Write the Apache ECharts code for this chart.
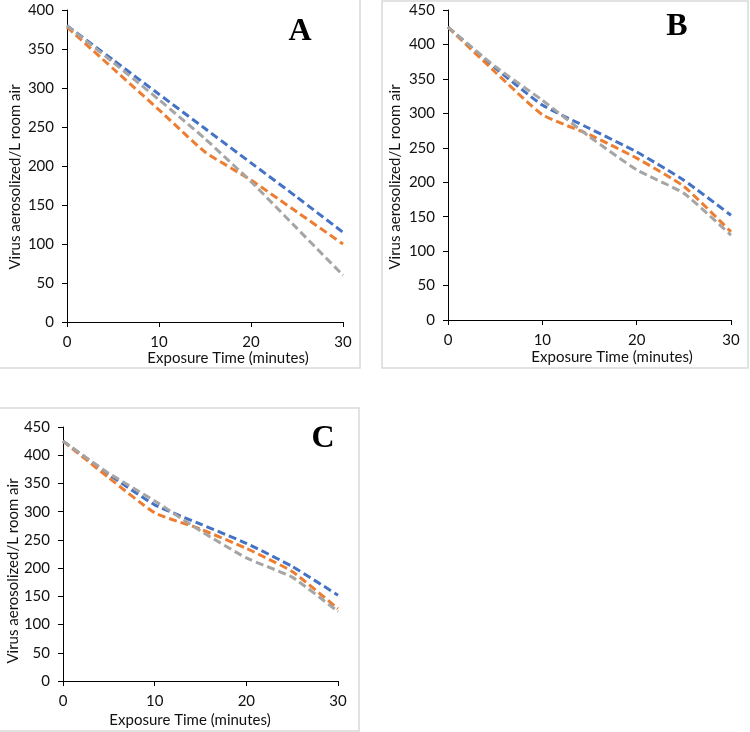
<!DOCTYPE html>
<html><head><meta charset="utf-8">
<script src="https://cdn.jsdelivr.net/npm/echarts@6/dist/echarts.min.js"></script>
<style>html,body{margin:0;padding:0;background:#fff}#c{width:750px;height:732px}</style>
</head><body><div id="c"></div>
<script>
const minutes = [0, 5, 10, 15, 20, 25, 30];
const aBlue   = [380, 336, 292, 248, 204, 160, 115];
const aOrange = [378, 325, 272, 218, 182, 141, 100];
const aGray   = [380, 333, 285, 235, 180, 120, 60];
const bBlue   = [425, 366, 312, 278, 244, 203, 152];
const bOrange = [425, 360, 298, 269, 235, 194, 128];
const bGray   = [425, 368, 319, 266, 218, 184, 123];
const cBlue   = [425, 366, 312, 278, 244, 203, 152];
const cOrange = [425, 360, 298, 269, 235, 194, 128];
const cGray   = [425, 368, 319, 266, 218, 184, 123];
const xTicks = [0, 10, 20, 30];
const panelLetters = ['A', 'B', 'C'];
const xTitle = 'Exposure Time (minutes)';
const yTitle = 'Virus aerosolized/L room air';

const FONT = 'Lato';
const colors = ['#4472C4', '#ED7D31', '#A5A5A5'];
const grids = [
  {left: 67, top: 10, width: 276, height: 312},
  {left: 448, top: 10, width: 283, height: 310},
  {left: 63, top: 427, width: 275, height: 254}
];
const yMax = [400, 450, 450];
const data = [[aBlue, aOrange, aGray], [bBlue, bOrange, bGray], [cBlue, cOrange, cGray]];

const axisCommon = {
  axisLine: {show: true, lineStyle: {color: '#000', width: 1}},
  axisTick: {show: true, length: 5, lineStyle: {color: '#000'}},
  splitLine: {show: false},
  axisLabel: {color: '#111', fontFamily: FONT, fontSize: 15}
};
const xAxes = grids.map((g, i) => Object.assign({}, axisCommon, {
  type: 'value', gridIndex: i, min: 0, max: 30, interval: 10,
  axisLabel: Object.assign({}, axisCommon.axisLabel, {margin: 13})
}));
const yAxes = grids.map((g, i) => Object.assign({}, axisCommon, {
  type: 'value', gridIndex: i, min: 0, max: yMax[i], interval: 50,
  axisLabel: Object.assign({}, axisCommon.axisLabel, {margin: 13})
}));
const series = [];
data.forEach((set, i) => set.forEach((vals, k) => {
  series.push({
    type: 'line', xAxisIndex: i, yAxisIndex: i, symbol: 'none', smooth: 0.15,
    data: minutes.map((m, j) => [m, vals[j]]),
    lineStyle: {color: colors[k], width: 3, type: [8, 4]},
    z: 10 + k
  });
}));

const borderStyle = {fill: 'none', stroke: '#d9d9d9', lineWidth: 1.5};
const xTitlePos = [[228, 358], [612, 357], [190, 720]];
const yTitlePos = [[15, 177], [395, 177], [13, 571]];
const letterPos = [[300, 32], [677, 27], [323, 439]];
const graphic = [
  {type: 'rect', shape: {x: -2, y: -2, width: 362, height: 370}, style: borderStyle},
  {type: 'rect', shape: {x: 382, y: 1, width: 366, height: 367}, style: borderStyle},
  {type: 'rect', shape: {x: -2, y: 408, width: 361, height: 323}, style: borderStyle}
];
for (let i = 0; i < 3; i++) {
  graphic.push({type: 'text', x: xTitlePos[i][0], y: xTitlePos[i][1],
    style: {text: xTitle, font: '15px ' + FONT, fill: '#111', textAlign: 'center', textVerticalAlign: 'middle'}});
  graphic.push({type: 'text', x: yTitlePos[i][0], y: yTitlePos[i][1], rotation: Math.PI / 2,
    style: {text: yTitle, font: '15px ' + FONT, fill: '#111', textAlign: 'center', textVerticalAlign: 'middle'}});
  graphic.push({type: 'text', x: letterPos[i][0], y: letterPos[i][1],
    style: {text: panelLetters[i], font: 'bold 32px "Liberation Serif"', fill: '#000', textAlign: 'center', textVerticalAlign: 'middle'}});
}

const chart = echarts.init(document.getElementById('c'), null, {renderer: 'canvas'});
chart.setOption({
  animation: false,
  backgroundColor: '#fff',
  grid: grids,
  xAxis: xAxes,
  yAxis: yAxes,
  series: series,
  graphic: graphic
});
</script></body></html>
